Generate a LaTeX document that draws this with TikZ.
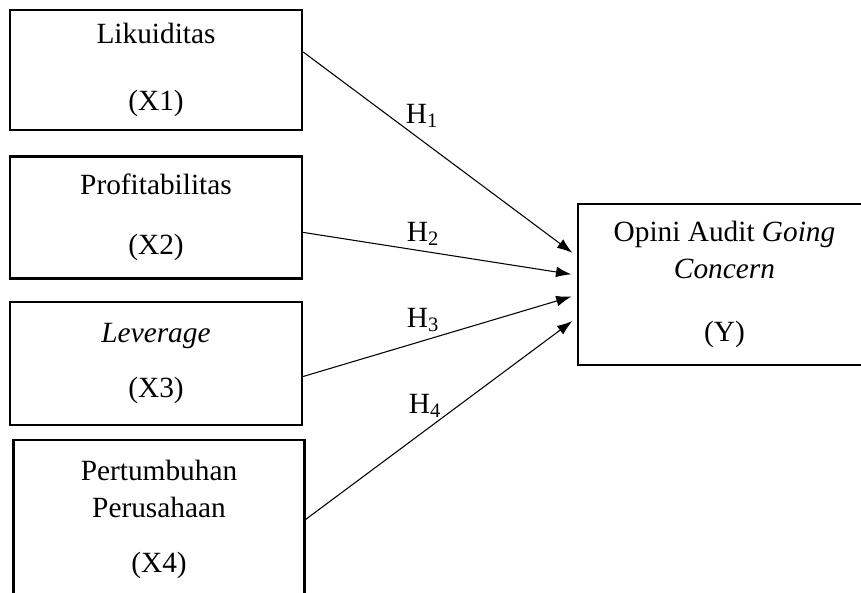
\documentclass[tikz,border=0pt]{standalone}
\usepackage{fontspec}
\setmainfont{Liberation Serif}
\usetikzlibrary{arrows.meta,positioning}

\begin{document}
\begin{tikzpicture}[x=0.75pt,y=-0.75pt,>={Latex[length=11.5pt,width=8pt]}]
        \tikzset{var/.style= {draw, rectangle, line width=1.8pt, align=center, minimum width=219pt, font=\fontsize{22}{27.5}\selectfont},
        hyp/.style={inner sep=0pt, font=\fontsize{22}{27.5}\selectfont},
        link/.style={draw, ->, line width=0.8pt, shorten >=4pt},
        }
        \useasboundingbox (0,0) rectangle (861,593);
        \node [var, minimum height=90pt] (x1) at (156,70) {Likuiditas\\[23pt](X1)};
        \node [var, minimum height=91.5pt, below=18pt of x1] (x2) {Profitabilitas\\[17.5pt](X2)};
        \node [var, minimum height=92pt, below=16pt of x2] (x3) {\textit{Leverage}\\[13.5pt](X3)};
        \node [var, minimum height=119pt, minimum width=218pt] (x4) at (159,519.5) {Pertumbuhan\\Perusahaan\\[13.5pt](X4)};
        \node [var, minimum height=120.75pt, minimum width=220pt] (y) at (724.5,284.5) {Opini Audit \textit{Going}\\\textit{Concern}\\[19.5pt](Y)};
        \node [hyp] (h1) at (422,116) {H\textsubscript{1}};
        \node [hyp] (h2) at (423,234) {H\textsubscript{2}};
        \node [hyp] (h3) at (423,320) {H\textsubscript{3}};
        \node [hyp] (h4) at (425,406) {H\textsubscript{4}};
%%% paths
        \path[link] ([yshift=13.5pt]x1.east) -- ([yshift=21.4pt]y.west);
        \path[link] ([yshift=-11.25pt]x2.east) -- ([yshift=7pt]y.west);
        \path[link] ([yshift=-9.75pt]x3.east) -- ([yshift=-7.9pt]y.west);
        \path[link] (x4.east) -- ([yshift=-25pt]y.west);
\end{tikzpicture}
\end{document}
